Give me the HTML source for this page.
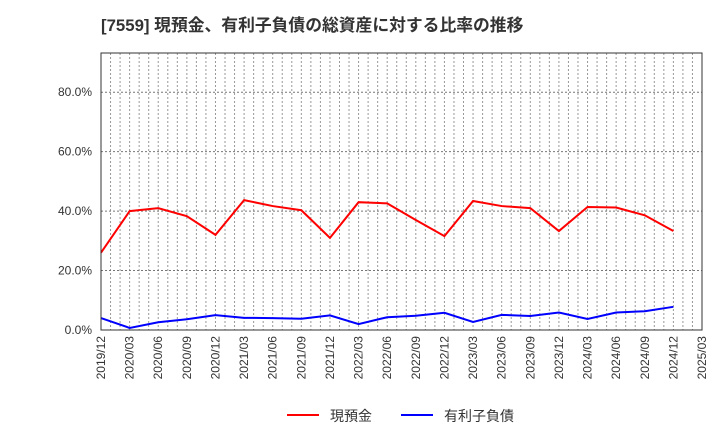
<!DOCTYPE html>
<html><head><meta charset="utf-8"><style>
body{margin:0;background:#fff;}
svg{display:block;font-family:"Liberation Sans","Noto Sans CJK JP",sans-serif;}
</style></head><body>
<svg id="chart" width="720" height="440" xmlns="http://www.w3.org/2000/svg">
<text x="101" y="31" font-size="16.8" font-weight="bold" fill="#333">[7559]  現預金、有利子負債の総資産に対する比率の推移</text>
<g id="grid"></g>
<g id="yticks"></g>
<g id="xticks"></g>
<g id="series"></g>
<rect x="101" y="53" width="601" height="277" fill="none" stroke="#333" stroke-width="1"/>
<g>
<line x1="287" y1="415" x2="319" y2="415" stroke="#f00" stroke-width="2"/>
<text x="330" y="421" font-size="14" fill="#333">現預金</text>
<line x1="401" y1="415" x2="433" y2="415" stroke="#00f" stroke-width="2"/>
<text x="444" y="421" font-size="14" fill="#333">有利子負債</text>
</g>
</svg>
<script>
const categories=["2019/12","2020/03","2020/06","2020/09","2020/12","2021/03","2021/06","2021/09","2021/12","2022/03","2022/06","2022/09","2022/12","2023/03","2023/06","2023/09","2023/12","2024/03","2024/06","2024/09","2024/12"];
const xTickLabels=["2019/12","2020/03","2020/06","2020/09","2020/12","2021/03","2021/06","2021/09","2021/12","2022/03","2022/06","2022/09","2022/12","2023/03","2023/06","2023/09","2023/12","2024/03","2024/06","2024/09","2024/12","2025/03"];
const cashValues=[26,40,41,38.3,32,43.7,41.7,40.3,31,43,42.6,37,31.6,43.4,41.7,41,33.3,41.4,41.2,38.6,33.3];
const debtValues=[4.0,0.7,2.6,3.6,5.0,4.1,4.0,3.8,4.9,2.0,4.3,4.8,5.8,2.7,5.1,4.7,5.9,3.7,5.9,6.3,7.8];
const yTicks=[0,20,40,60,80];
const NS="http://www.w3.org/2000/svg";
const X0=101,X1=702,Y0=330,YTOP=53,YMAX=93.2;
const xQ=i=>X0+(X1-X0)*i/(xTickLabels.length-1);
const y=v=>Y0-(Y0-YTOP)*v/YMAX;
function mk(tag,attrs,parent){const e=document.createElementNS(NS,tag);for(const k in attrs)e.setAttribute(k,attrs[k]);parent.appendChild(e);return e;}
const grid=document.getElementById('grid'),yt=document.getElementById('yticks'),xt=document.getElementById('xticks'),ser=document.getElementById('series');
const nMonths=(xTickLabels.length-1)*3;
for(let m=1;m<nMonths;m++){const xx=X0+(X1-X0)*m/nMonths;
const l=mk('line',{x1:xx,x2:xx,y1:YTOP,y2:Y0,stroke:'#999','stroke-width':1,'stroke-dasharray':'2,2'},grid);

}
yTicks.forEach(v=>{
if(v>0){const l=mk('line',{x1:X0,x2:X1,y1:y(v),y2:y(v),stroke:'#777','stroke-width':1,'stroke-dasharray':'2,2'},grid);

}
const t=mk('text',{x:92,y:y(v)+4,'font-size':12,fill:'#333','text-anchor':'end'},yt);t.textContent=v.toFixed(1)+'%';

});
xTickLabels.forEach((s,i)=>{const xx=xQ(i)+4;
const t=mk('text',{x:0,y:0,'font-size':12,fill:'#333','text-anchor':'end',transform:`translate(${xx},336) rotate(-90)`},xt);t.textContent=s;

});
function line(vals,color,name){const p=vals.map((v,i)=>xQ(i)+','+y(v)).join(' ');
const e=mk('polyline',{points:p,fill:'none',stroke:color,'stroke-width':2,'stroke-linejoin':'miter'},ser);

}
line(cashValues,'#f00','cash-line');
line(debtValues,'#00f','debt-line');
</script>
</body></html>
